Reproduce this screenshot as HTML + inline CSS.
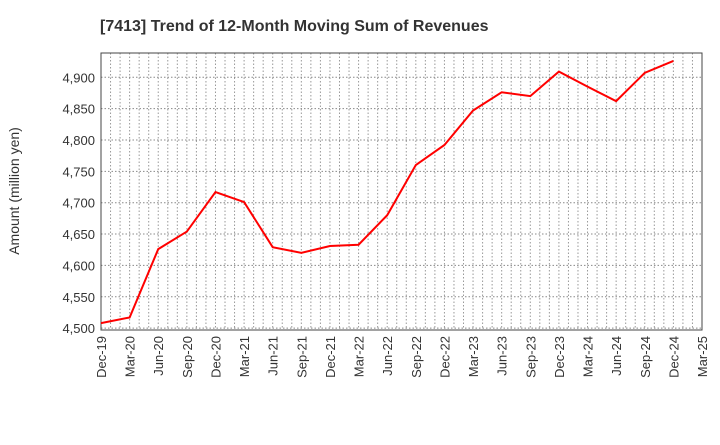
<!DOCTYPE html>
<html><head><meta charset="utf-8"><style>
body{margin:0;background:#fff;font-family:"Liberation Sans",sans-serif}
</style></head><body>
<svg id="chart" width="720" height="440" xmlns="http://www.w3.org/2000/svg">
<text x="100" y="31" font-size="16" font-weight="bold" fill="#333">[7413]  Trend of 12-Month Moving Sum of Revenues</text>
<text transform="translate(19,191) rotate(-90)" text-anchor="middle" font-size="14" fill="#333">Amount (million yen)</text>
<g id="grid"></g><g id="axes"></g><g id="series"></g>
</svg>
<script>
const categories=["Dec-19","Mar-20","Jun-20","Sep-20","Dec-20","Mar-21","Jun-21","Sep-21","Dec-21","Mar-22","Jun-22","Sep-22","Dec-22","Mar-23","Jun-23","Sep-23","Dec-23","Mar-24","Jun-24","Sep-24","Dec-24","Mar-25"];
const revenues=[4508,4517,4626,4654,4717,4701,4629,4620,4631,4633,4680,4760,4792,4847,4876,4870,4909,4885,4862,4907,4926];
const yTicks=[4500,4550,4600,4650,4700,4750,4800,4850,4900];
const L=101,R=702,T=53,B=330,yMin=4497,yMax=4938.7;
const ns="http://www.w3.org/2000/svg";
const xs=i=>L+(R-L)*i/(categories.length-1);
const ys=v=>B-(v-yMin)/(yMax-yMin)*(B-T);
function mk(tag,attrs,parent){const e=document.createElementNS(ns,tag);for(const k in attrs)e.setAttribute(k,attrs[k]);document.getElementById(parent).appendChild(e);return e;}
for(let m=1;m<(categories.length-1)*3;m++){const x=L+(R-L)*m/((categories.length-1)*3);
const g=mk('line',{x1:x,x2:x,y1:T,y2:B,stroke:'#999','stroke-dasharray':'1.5,2','stroke-width':1},'grid');

}
yTicks.forEach(v=>{const y=ys(v);
const g=mk('line',{x1:L,x2:R,y1:y,y2:y,stroke:'#888','stroke-dasharray':'1.5,2','stroke-width':1},'grid');


const t=mk('text',{x:L-6,y:y+5,'text-anchor':'end','font-size':13,fill:'#333'},'axes');t.textContent=v.toLocaleString('en-US');

});
const fr=mk('rect',{x:L,y:T,width:R-L,height:B-T,fill:'none',stroke:'#444','stroke-width':1},'axes');


categories.forEach((c,i)=>{const x=xs(i);
const t=mk('text',{transform:`translate(${x+5},${B+6}) rotate(-90)`,'text-anchor':'end','font-size':13,fill:'#333'},'axes');t.textContent=c;

});
const p=mk('polyline',{points:revenues.map((v,i)=>xs(i)+','+ys(v)).join(' '),fill:'none',stroke:'#f00','stroke-width':2},'series');


</script>
</body></html>
